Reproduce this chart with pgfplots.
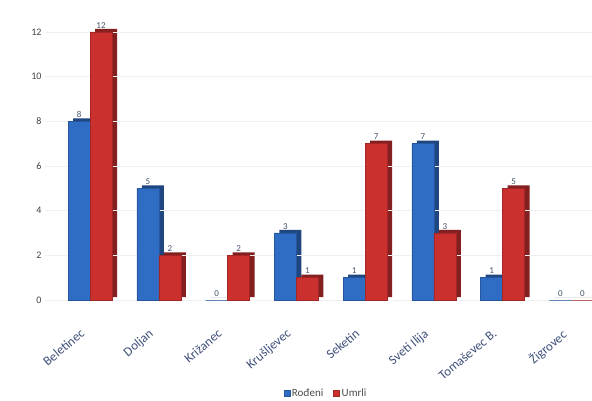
\documentclass[border=0pt]{standalone}
\usepackage{fontspec}
\setmainfont{Carlito}
\usepackage{pgfplots}
\pgfplotsset{compat=1.18}
\definecolor{cblue}{HTML}{2F6CC4}
\definecolor{cred}{HTML}{C9302E}
\definecolor{lblcol}{HTML}{44546A}
\definecolor{catcol}{HTML}{3F4F7A}
\pgfplotsset{
  mybase/.style={
    scale only axis, width=547pt, height=300pt,
    xmin=-0.655, xmax=7.3, ymin=0, ymax=13.43,
    clip=false, ybar=0pt, bar width=0.32,
  }
}
\begin{document}
\begin{tikzpicture}[x=1pt,y=1pt]
\useasboundingbox (0,0) rectangle (592,400);
% depth (side faces) of the 3D bars
\begin{axis}[
  mybase,
  at={(50pt,103pt)}, anchor=south west,
  hide axis,
]
\addplot[fill=cblue!65!black, draw=none] coordinates {(0,8) (1,5) (2,0) (3,3) (4,1) (5,7) (6,1) (7,0)};
\addplot[fill=cred!65!black, draw=none] coordinates {(0,12) (1,2) (2,2) (3,1) (4,7) (5,3) (6,5) (7,0)};
\end{axis}
\begin{axis}[
  mybase,
  at={(45pt,100pt)}, anchor=south west,
  axis line style={draw=none},
  tick style={draw=none},
  ytick={0,2,...,12},
  ymajorgrids, grid style={gray!12},
  xtick={0,...,7},
  xticklabels={Beletinec,Doljan,Križanec,Krušljevec,Seketin,Sveti Ilija,Tomaševec B.,Žigrovec},
  xticklabel style={rotate=40, anchor=north east, font=\fontsize{13}{14}\selectfont, text=catcol, xshift=-20pt, yshift=-8pt},
  yticklabel style={font=\fontsize{10}{12}\selectfont, text=black!75},
  /pgf/number format/assume math mode=true,
  nodes near coords,
  every node near coord/.append style={font=\fontsize{9}{10}\selectfont, text=lblcol, inner sep=1.5pt, yshift=2pt},
  legend style={at={(281pt,-93pt)}, anchor=center, draw=none, fill=none, font=\fontsize{11}{12}\selectfont, text=black!70, legend columns=2, /tikz/every even column/.append style={column sep=8pt}},
  legend image code/.code={\fill[#1] (1pt,-3pt) rectangle (7pt,3pt);},
]
\addplot[fill=cblue, draw=cblue!80!black] coordinates {(0,8) (1,5) (2,0) (3,3) (4,1) (5,7) (6,1) (7,0)};
\addlegendentry{Rođeni}
\addplot[fill=cred, draw=cred!80!black] coordinates {(0,12) (1,2) (2,2) (3,1) (4,7) (5,3) (6,5) (7,0)};
\addlegendentry{Umrli}
\end{axis}
\end{tikzpicture}
\end{document}
